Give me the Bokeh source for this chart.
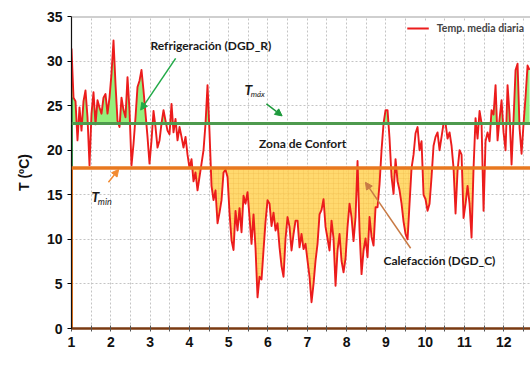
import numpy as np
from bokeh.plotting import figure
from bokeh.models import Span, Label, Arrow, NormalHead, FixedTicker, Range1d
from bokeh.embed import file_html
from bokeh.resources import INLINE

# ---------------- data ----------------
T_START = 1.0          # month at first sample
STEP = 0.0509          # months between samples (~1.5 days)
TMAX = 23.0
TMIN = 18.0
MONTH_TICKS = [1, 2, 3, 4, 5, 6, 7, 8, 9, 10, 11, 12]
HALF_TICKS = [1.5, 2.5, 3.5, 4.5, 5.5, 6.5, 7.5, 8.5, 9.5, 10.5, 11.5, 12.5]
Y_TICKS = [0, 5, 10, 15, 20, 25, 30, 35]

temp = [
    31.4, 25.9, 25.5, 21.1, 24.8, 22.2, 25.5, 26.7, 23.7, 18.3,
    24.1, 26.5, 22.9, 25.6, 24.8, 24.1, 25.9, 26.3, 24.1, 25.9,
    28.6, 32.3, 27.4, 23.3, 22.6, 25.9, 24.5, 23.7, 28.2, 24.5,
    18.3, 20.7, 23.7, 27.1, 27.8, 29.0, 26.7, 24.1, 21.5, 18.5,
    21.1, 24.4, 22.6, 20.3, 21.1, 23.0, 24.5, 23.3, 22.2, 21.8,
    25.2, 22.0, 23.5, 21.1, 22.6, 21.5, 20.3, 21.5, 19.5, 18.0,
    19.0, 16.5, 17.5, 15.5, 17.0, 18.5, 20.0, 23.0, 27.3, 22.0,
    16.0, 14.4, 15.5, 11.8, 13.0, 14.4, 17.5, 17.8, 17.0, 13.0,
    9.9, 8.8, 13.2, 11.0, 13.5, 10.8, 14.9, 14.0, 15.3, 12.5,
    9.5, 12.8, 9.0, 3.5, 5.8, 5.5, 8.8, 12.0, 14.4, 14.0,
    11.5, 13.0, 11.0, 11.8, 9.1, 7.0, 5.8, 10.1, 12.5, 11.4,
    8.75, 10.6, 12.1, 12.1, 9.1, 10.6, 8.9, 9.5, 7.6, 5.8,
    2.95, 5.0, 7.6, 9.5, 12.8, 13.3, 14.5, 11.4, 10.1, 8.75,
    12.1, 10.1, 4.8, 8.75, 10.6, 7.6, 6.3, 7.9, 11.4, 14.0,
    12.5, 9.8, 12.5, 18.8, 11.0, 6.1, 8.75, 10.1, 8.0, 12.5,
    10.3, 9.3, 13.6, 13.6, 16.2, 20.0, 23.0, 24.5, 24.5, 21.3,
    17.0, 15.1, 19.0, 16.5, 15.5, 14.0, 12.0, 10.6, 10.0, 14.0,
    18.0, 19.5, 21.9, 22.6, 20.0, 21.0, 15.0, 14.5, 13.2, 14.0,
    17.0, 20.5, 21.5, 22.0, 20.0, 21.5, 23.0, 23.0, 21.3, 22.0,
    20.5, 18.0, 12.9, 17.7, 20.0, 19.5, 12.4, 14.0, 16.0, 14.0,
    10.2, 18.0, 23.6, 21.3, 24.4, 23.0, 13.2, 21.0, 22.0, 21.0,
    24.5, 24.0, 27.3, 21.1, 23.5, 25.6, 22.0, 20.0, 27.3, 24.0,
    18.4, 23.5, 29.0, 29.7, 22.5, 19.6, 23.0, 26.0, 29.5, 29.0,
]

temp = np.array(temp, dtype=float)
t = T_START + np.arange(len(temp)) * STEP


def with_crossings(x, y, level):
    xs, ys = [x[0]], [y[0]]
    for i in range(1, len(x)):
        y0, y1 = y[i - 1], y[i]
        if (y0 - level) * (y1 - level) < 0:
            f = (level - y0) / (y1 - y0)
            xs.append(x[i - 1] + f * (x[i] - x[i - 1]))
            ys.append(level)
        xs.append(x[i])
        ys.append(y1)
    return np.array(xs), np.array(ys)


# ---------------- figure ----------------
p = figure(width=530, height=370, output_backend="svg", toolbar_location=None,
           x_range=Range1d(1, 12.68), y_range=Range1d(0, 35),
           min_border_left=71, min_border_right=0, min_border_top=16,
           min_border_bottom=42)
p.outline_line_color = None
p.background_fill_color = "white"

# grids
p.xaxis.ticker = FixedTicker(ticks=MONTH_TICKS, minor_ticks=HALF_TICKS)
p.yaxis.ticker = FixedTicker(ticks=Y_TICKS)
p.xgrid.grid_line_color = "#c4c4c4"
p.xgrid.grid_line_dash = "2 2"
p.xgrid.minor_grid_line_color = "#c4c4c4"
p.xgrid.minor_grid_line_dash = "2 2"
p.ygrid.grid_line_color = "#c4c4c4"
p.ygrid.grid_line_dash = "2 2"

# fills
xg, yg = with_crossings(t, temp, TMAX)
p.varea(x=xg, y1=np.full(len(xg), TMAX), y2=np.maximum(yg, TMAX),
        fill_color="#94f07c", fill_alpha=1.0)
xo, yo = with_crossings(t, temp, TMIN)
p.varea(x=xo, y1=np.minimum(yo, TMIN), y2=np.full(len(xo), TMIN),
        fill_color="#ffd45a", fill_alpha=0.88,
        hatch_pattern="+", hatch_color="#e9a93c", hatch_alpha=0.35,
        hatch_scale=5, hatch_weight=0.6)

# threshold lines
p.add_layout(Span(location=TMAX, dimension="width", line_color="#4e9a4e", line_width=3))
p.add_layout(Span(location=TMIN, dimension="width", line_color="#e8781f", line_width=3.5))
p.add_layout(Span(location=35, dimension="width", line_color="#a0a0a0", line_width=2))

# left edge of fills
p.segment(x0=[t[0]], y0=[0], x1=[t[0]], y1=[TMIN], line_color="#e8781f", line_width=3)
p.segment(x0=[t[0]], y0=[TMIN], x1=[t[0]], y1=[temp[1]], line_color="#3a9a4e", line_width=3)

# temperature line
r = p.line(t, temp, line_color="#ec1c1c", line_width=1.9, line_join="round",
           legend_label="Temp. media diaria")

# axes
TICK_FONT = "Liberation Sans"
for ax in (p.xaxis, p.yaxis):
    ax.major_label_text_font = TICK_FONT
    ax.major_label_text_font_style = "bold"
    ax.major_label_text_font_size = "14px"
    ax.major_label_text_color = "#111111"
    ax.axis_label_text_font = TICK_FONT
    ax.axis_label_text_font_style = "bold"
    ax.axis_label_text_font_size = "14px"
    ax.axis_label_text_color = "#111111"

p.xaxis.axis_line_color = "#7a3a12"
p.xaxis.axis_line_width = 2.5
p.xaxis.major_tick_line_color = "#555555"
p.xaxis.minor_tick_line_color = "#555555"
p.xaxis.major_tick_in = 3
p.xaxis.major_tick_out = 3
p.xaxis.minor_tick_in = 3
p.xaxis.minor_tick_out = 3
p.xaxis.major_label_standoff = 5
p.xaxis.axis_label = None

p.yaxis.axis_line_color = "#111111"
p.yaxis.axis_line_width = 1.2
p.yaxis.major_tick_in = 0
p.yaxis.major_tick_out = 4
p.yaxis.minor_tick_line_color = None
p.yaxis.major_label_standoff = 5
p.yaxis.axis_label = "T (ºC)"
p.yaxis.axis_label_standoff = 12

# x-axis title placed as in the reference
p.add_layout(Label(x=7.92, y=-3.4, text="t (meses)", text_align="center",
                   text_baseline="middle", text_font=TICK_FONT,
                   text_font_style="bold", text_font_size="15px",
                   text_color="#111111"))

# legend
lg = p.legend[0]
lg.location = "top_right"
lg.margin = 6
lg.padding = 4
lg.border_line_color = None
lg.background_fill_color = "white"
lg.background_fill_alpha = 1.0
lg.label_text_font = "Lato"
lg.label_text_font_style = "bold"
lg.label_text_font_size = "10.5px"
lg.glyph_width = 22
lg.glyph_height = 10
lg.label_standoff = 8
lg.label_height = 12

# annotations
ANN_FONT = "Lato"


def txt(x, y, s, size="12px", style="bold", align="left"):
    p.add_layout(Label(x=x, y=y, text=s, text_align=align, text_baseline="middle",
                       text_font=ANN_FONT, text_font_style=style,
                       text_font_size=size, text_color="#1a1a1a"))


def arrow(x0, y0, x1, y1, color):
    p.add_layout(Arrow(x_start=x0, y_start=y0, x_end=x1, y_end=y1,
                       line_color=color, line_width=1.5,
                       end=NormalHead(size=7, fill_color=color, line_color=color)))


txt(3.01, 31.7, "Refrigeración (DGD_R)")
arrow(3.65, 30.3, 2.76, 24.5, "#22aa48")

txt(5.40, 26.85, "T", size="14px", style="bold italic")
txt(5.56, 26.35, "máx", size="8px", style="italic")
arrow(5.96, 25.2, 6.36, 23.85, "#1d9a3c")

txt(6.88, 20.75, "Zona de Confort", align="center")

txt(1.51, 14.8, "T", size="14px", style="bold italic")
txt(1.67, 14.2, "min", size="9px", style="italic")
arrow(1.94, 16.4, 2.2, 17.85, "#f28a30")

txt(8.94, 7.6, "Calefacción (DGD_C)")
arrow(9.63, 9.0, 8.48, 16.4, "#c87a45")

open("out.html", "w").write(file_html(p, INLINE))
